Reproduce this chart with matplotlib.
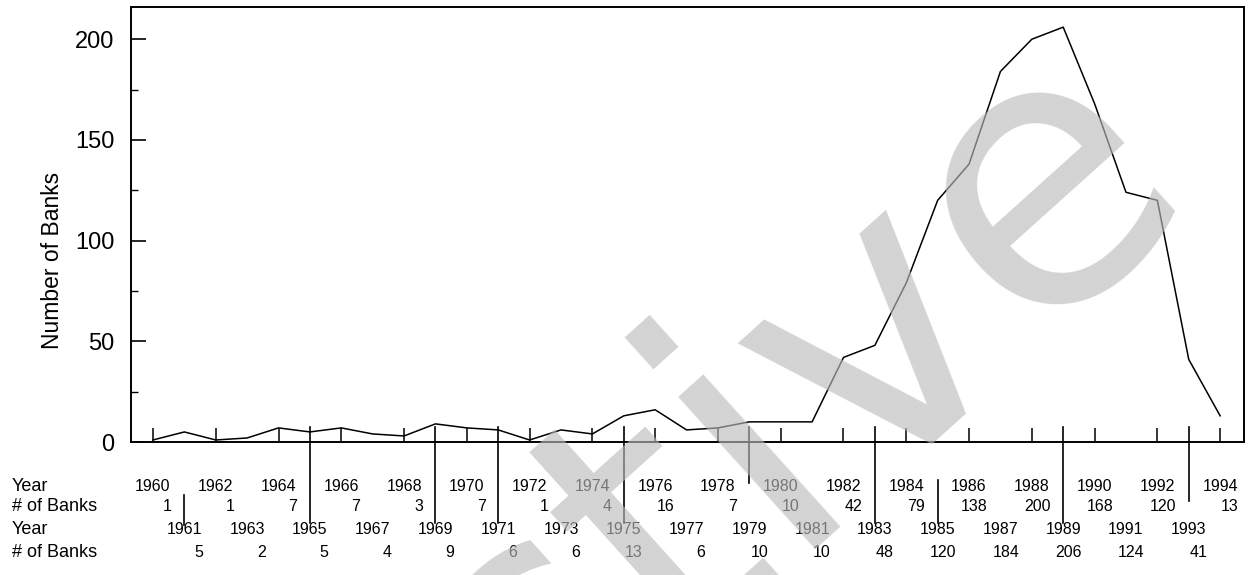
import matplotlib.pyplot as plt
from matplotlib.ticker import MultipleLocator

plt.rcParams['font.family'] = ['Liberation Sans', 'DejaVu Sans']

# bank failures per year
years = list(range(1960, 1995))
banks = [1, 5, 1, 2, 7, 5, 7, 4, 3, 9, 7, 6, 1, 6, 4, 13, 16, 6, 7, 10,
         10, 10, 42, 48, 79, 120, 138, 184, 200, 206, 168, 124, 120, 41, 13]

y_ticks = [0, 50, 100, 150, 200]

fig = plt.figure(figsize=(12.5, 5.75), dpi=100)
ax = fig.add_axes([0.1048, 0.2313, 0.8904, 0.7565])

ax.plot(years, banks, color='black', lw=1.1)

ax.set_xlim(1959.3, 1994.76)
ax.set_ylim(0, 216)
for s in ax.spines.values():
    s.set_linewidth(1.4)

ax.set_yticks(y_ticks)
ax.yaxis.set_minor_locator(MultipleLocator(25))
ax.tick_params(axis='y', which='major', direction='in', length=11, width=1.2,
               labelsize=17, pad=12)
ax.tick_params(axis='y', which='minor', direction='in', length=5, width=1.0)
ax.set_ylabel('Number of Banks', fontsize=16.5)
ax.yaxis.set_label_coords(-0.06, 0.418)

ax.set_xticks(years[::2])
ax.tick_params(axis='x', direction='in', length=10, width=1.1, labelbottom=False)

# table of values under the chart
xt = ax.get_xaxis_transform()
row_y = [-0.103, -0.149, -0.202, -0.255]
for i, (yr, n) in enumerate(zip(years, banks)):
    r = 0 if i % 2 == 0 else 2
    ax.text(yr, row_y[r], str(yr), transform=xt, ha='center', va='center',
            fontsize=11.5, clip_on=False)
    ax.text(yr + 0.6, row_y[r + 1], str(n), transform=xt, ha='right',
            va='center', fontsize=11.5, clip_on=False)

for r, lab in enumerate(['Year', '# of Banks', 'Year', '# of Banks']):
    fig.text(0.0096, 0.2313 + row_y[r] * 0.7565, lab, ha='left', va='center',
             fontsize=13)

# separator lines of the table
for yr, y0, y1 in [(1961, -0.122, -0.19), (1965, 0.034, -0.186),
                   (1969, 0.034, -0.186), (1971, 0.034, -0.186),
                   (1975, 0.034, -0.186), (1979, 0.034, -0.094),
                   (1983, 0.034, -0.186), (1985, -0.088, -0.186),
                   (1989, 0.034, -0.186), (1993, 0.034, -0.135)]:
    ax.plot([yr, yr], [y0, y1], transform=xt, color='black', lw=1.2,
            clip_on=False)

# watermark
fig.text(0.962, 0.655, 'Active', fontsize=270, rotation=42,
         family='DejaVu Sans', rotation_mode='anchor', ha='right',
         va='baseline', color='#bbbbbb', alpha=0.64, zorder=10)

fig.savefig('out.png', dpi=100)
